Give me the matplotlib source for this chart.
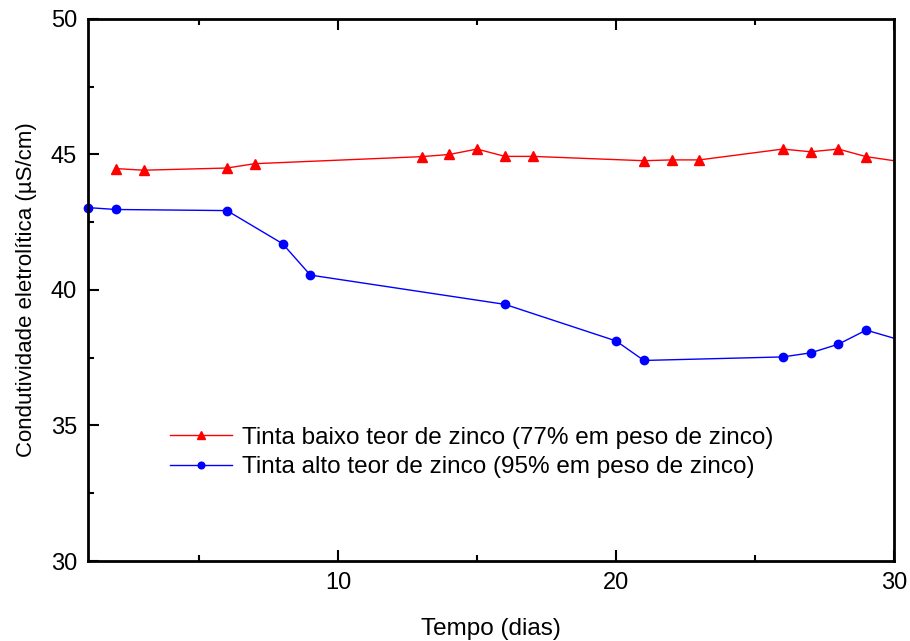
import matplotlib
matplotlib.use("Agg")
import matplotlib.pyplot as plt
from matplotlib.ticker import MultipleLocator

plt.rcParams['font.family'] = ['Liberation Sans', 'DejaVu Sans']

red_x = [2, 3, 6, 7, 13, 14, 15, 16, 17, 21, 22, 23, 26, 27, 28, 29, 30]
red_y = [44.48, 44.42, 44.5, 44.66, 44.92, 45.0, 45.2, 44.93, 44.93, 44.77, 44.8, 44.8, 45.2, 45.1, 45.2, 44.92, 44.77]
blue_x = [1, 2, 6, 8, 9, 16, 20, 21, 26, 27, 28, 29, 30]
blue_y = [43.04, 42.97, 42.93, 41.71, 40.55, 39.47, 38.12, 37.4, 37.53, 37.68, 38.0, 38.52, 38.22]

red_label = "Tinta baixo teor de zinco (77% em peso de zinco)"
blue_label = "Tinta alto teor de zinco (95% em peso de zinco)"

fig = plt.figure(figsize=(9.10, 6.41), dpi=100)
ax = fig.add_axes([0.0967, 0.1248, 0.8857, 0.8456])

ax.plot(red_x, red_y, color='#ff0000', lw=1.0, marker='^', markersize=7.5,
        markevery=list(range(len(red_x) - 1)), label=red_label, clip_on=False)
ax.plot(blue_x, blue_y, color='#0000ff', lw=1.0, marker='o', markersize=6,
        markevery=list(range(len(blue_x) - 1)), label=blue_label, clip_on=False)

ax.set_xlim(1, 30)
ax.set_ylim(30, 50)
ax.xaxis.set_major_locator(MultipleLocator(10))
ax.xaxis.set_minor_locator(MultipleLocator(5))
ax.yaxis.set_major_locator(MultipleLocator(5))
ax.yaxis.set_minor_locator(MultipleLocator(2.5))

ax.tick_params(which='both', direction='in', top=True, right=False, width=1.5,
               labelsize=17, pad=8)
ax.tick_params(which='major', length=8)
ax.tick_params(which='minor', length=4)
for s in ax.spines.values():
    s.set_linewidth(2)

ax.set_xlabel("Tempo (dias)", fontsize=17.5, labelpad=17)
ax.set_ylabel("Condutividade eletrolítica (µS/cm)", fontsize=16, labelpad=10)

leg = ax.legend(loc='center left', bbox_to_anchor=(0.075, 0.200), frameon=False,
                fontsize=17.5, handlelength=2.55, handletextpad=0.4, labelspacing=0.3,
                markerscale=0.8)

fig.savefig("out.png", dpi=100)
